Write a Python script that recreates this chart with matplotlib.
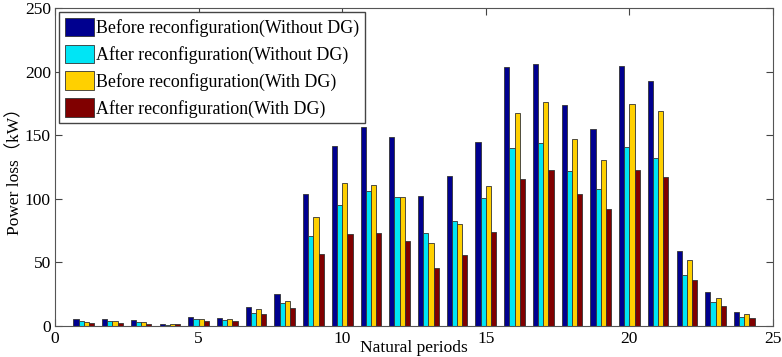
import numpy as np
import matplotlib
matplotlib.use('Agg')
import matplotlib.pyplot as plt

periods = np.arange(1, 25)
before_no_dg = [5.5, 5.5, 4.7, 1.3, 7.3, 6.5, 14.9, 25.1, 103.4, 141.4, 156.3, 148.4,
                102.4, 118.0, 145.0, 203.4, 206.0, 173.6, 155.2, 204.2, 192.4, 58.9, 26.4, 10.7]
after_no_dg = [4.2, 4.2, 2.9, 1.0, 5.2, 4.5, 10.2, 18.0, 70.9, 95.0, 106.5, 101.3,
               73.0, 82.7, 100.3, 140.3, 143.7, 121.5, 107.9, 140.8, 131.7, 40.0, 18.6, 7.1]
before_dg = [3.1, 3.7, 2.9, 1.3, 5.2, 5.2, 13.1, 19.9, 85.3, 112.6, 110.7, 101.3,
             65.2, 80.4, 109.7, 167.3, 176.2, 146.9, 130.4, 174.9, 168.8, 52.0, 22.3, 9.2]
after_dg = [2.4, 2.4, 1.8, 1.3, 4.2, 3.9, 9.7, 14.4, 56.8, 72.5, 73.0, 66.5,
            45.5, 55.8, 74.1, 115.2, 122.8, 103.9, 92.1, 122.3, 116.8, 35.9, 15.7, 6.0]

series = [before_no_dg, after_no_dg, before_dg, after_dg]
labels = ['Before reconfiguration(Without DG)', 'After reconfiguration(Without DG)',
          'Before reconfiguration(With DG)', 'After reconfiguration(With DG)']
colors = ['#00008F', '#00E5F5', '#FFD000', '#800000']

plt.rcParams['font.family'] = ['Liberation Serif', 'Noto Sans CJK SC']

fig = plt.figure(figsize=(7.82, 3.57), dpi=100)
ax = fig.add_axes([55 / 782, 31 / 357, 718 / 782, 318 / 357])

w = 0.18
for i, (vals, lab, col) in enumerate(zip(series, labels, colors)):
    ax.bar(periods + (i - 1.5) * w, vals, width=w, color=col, edgecolor='#333333',
           linewidth=0.6, label=lab)

ax.set_xlim(0, 25)
ax.set_ylim(0, 250)
ax.set_xticks(range(0, 26, 5))
ax.set_yticks(range(0, 251, 50))
ax.tick_params(direction='in', top=True, right=True, labelsize=12.5, length=5,
               color='#444444')
ax.tick_params(axis='y', pad=3)
for s in ax.spines.values():
    s.set_color('#555555')
ax.set_ylabel('Power loss（kW）', fontsize=12.5, labelpad=1)
ax.set_xlabel('Natural periods', fontsize=12.5, labelpad=-5)

ax.legend(loc='upper left', fontsize=12.9, handlelength=1.6, handleheight=1.2,
          fancybox=False, edgecolor='#444444', framealpha=1, borderaxespad=0.25,
          labelspacing=0.42, handletextpad=0.15, borderpad=0.3)

fig.savefig('out.png', dpi=100)
